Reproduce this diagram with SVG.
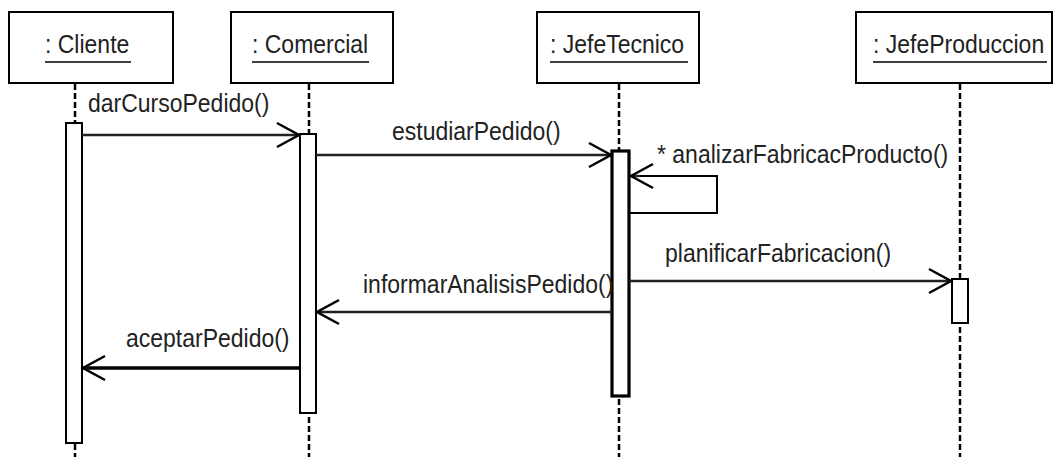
<svg xmlns="http://www.w3.org/2000/svg" width="1056" height="457" viewBox="0 0 1056 457">
  <style>
    .obj { fill: #fff; stroke: #000; stroke-width: 2; }
    .uline { stroke: #000; stroke-width: 1.6; }
    .life { stroke: #000; stroke-width: 2.5; stroke-dasharray: 6 3; fill: none; }
    .act { fill: #fff; stroke: #000; stroke-width: 2; }
    .act-thick { fill: #fff; stroke: #000; stroke-width: 3.2; }
    .msg { stroke: #222; stroke-width: 2.4; fill: none; marker-end: url(#open); }
    .msg-bold { stroke: #000; stroke-width: 3.5; fill: none; marker-end: url(#open); }
    .self { stroke: #000; stroke-width: 2; fill: none; }
    text { font-family: "Liberation Sans", Arial, sans-serif; font-size: 23px; fill: #222; }
  </style>
  <defs>
    <marker id="open" markerUnits="userSpaceOnUse" viewBox="-25 -15 28 30" markerWidth="28" markerHeight="30" refX="0" refY="0" orient="auto">
      <path d="M -22 -12 L 0 0 L -22 12" fill="none" stroke="#000" stroke-width="2.5"/>
    </marker>
  </defs>
  <rect width="1056" height="457" fill="#fff"/>

  <!-- lifelines -->
  <g id="lifelines">
    <line class="life" x1="75" y1="84" x2="75" y2="457"/>
    <line class="life" x1="309" y1="84" x2="309" y2="457"/>
    <line class="life" x1="619" y1="84" x2="619" y2="457"/>
    <line class="life" x1="960" y1="84" x2="960" y2="457"/>
  </g>

  <g id="cliente">
    <rect class="obj" x="9" y="12" width="164" height="71"/>
    <text transform="translate(45 53) scale(1 1.1)">: Cliente</text>
    <line class="uline" x1="45" y1="62" x2="131" y2="62"/>
    <rect class="act" x="66" y="123" width="16" height="320"/>
  </g>

  <g id="comercial">
    <rect class="obj" x="231" y="12" width="162" height="71"/>
    <text transform="translate(252 53) scale(1 1.1)">: Comercial</text>
    <line class="uline" x1="252" y1="62" x2="369" y2="62"/>
    <rect class="act" x="300" y="134" width="16" height="279"/>
  </g>

  <g id="jefeTecnico">
    <rect class="obj" x="537" y="12" width="162" height="71"/>
    <text transform="translate(550 53) scale(1 1.1)">: JefeTecnico</text>
    <line class="uline" x1="550" y1="62" x2="688" y2="62"/>
    <rect class="act-thick" x="612" y="151" width="17" height="245"/>
  </g>

  <g id="jefeProduccion">
    <rect class="obj" x="856" y="12" width="196" height="71"/>
    <text transform="translate(873 53) scale(1 1.1)">: JefeProduccion</text>
    <line class="uline" x1="873" y1="62" x2="1047" y2="62"/>
    <rect class="act" x="952" y="279" width="16" height="44"/>
  </g>

  <!-- messages -->
  <g id="connectors">
    <line class="msg" x1="82" y1="135" x2="299" y2="135"/>
    <text transform="translate(88 112) scale(1 1.1)">darCursoPedido()</text>

    <line class="msg" x1="316" y1="155" x2="611" y2="155"/>
    <text transform="translate(392 140) scale(1 1.1)">estudiarPedido()</text>

    <path class="self" d="M 630 213 L 717 213 L 717 176 L 633 176"/>
    <line class="msg" x1="640" y1="176" x2="631" y2="176"/>
    <text transform="translate(657 163) scale(1 1.1)">* analizarFabricacProducto()</text>

    <line class="msg" x1="629" y1="281" x2="951" y2="281"/>
    <text transform="translate(665 262) scale(1 1.1)">planificarFabricacion()</text>

    <line class="msg" x1="612" y1="312" x2="317" y2="312"/>
    <text transform="translate(363 293) scale(1 1.1)">informarAnalisisPedido()</text>

    <line class="msg-bold" x1="300" y1="368" x2="83" y2="368"/>
    <text transform="translate(126 347) scale(1 1.1)">aceptarPedido()</text>
  </g>
</svg>
